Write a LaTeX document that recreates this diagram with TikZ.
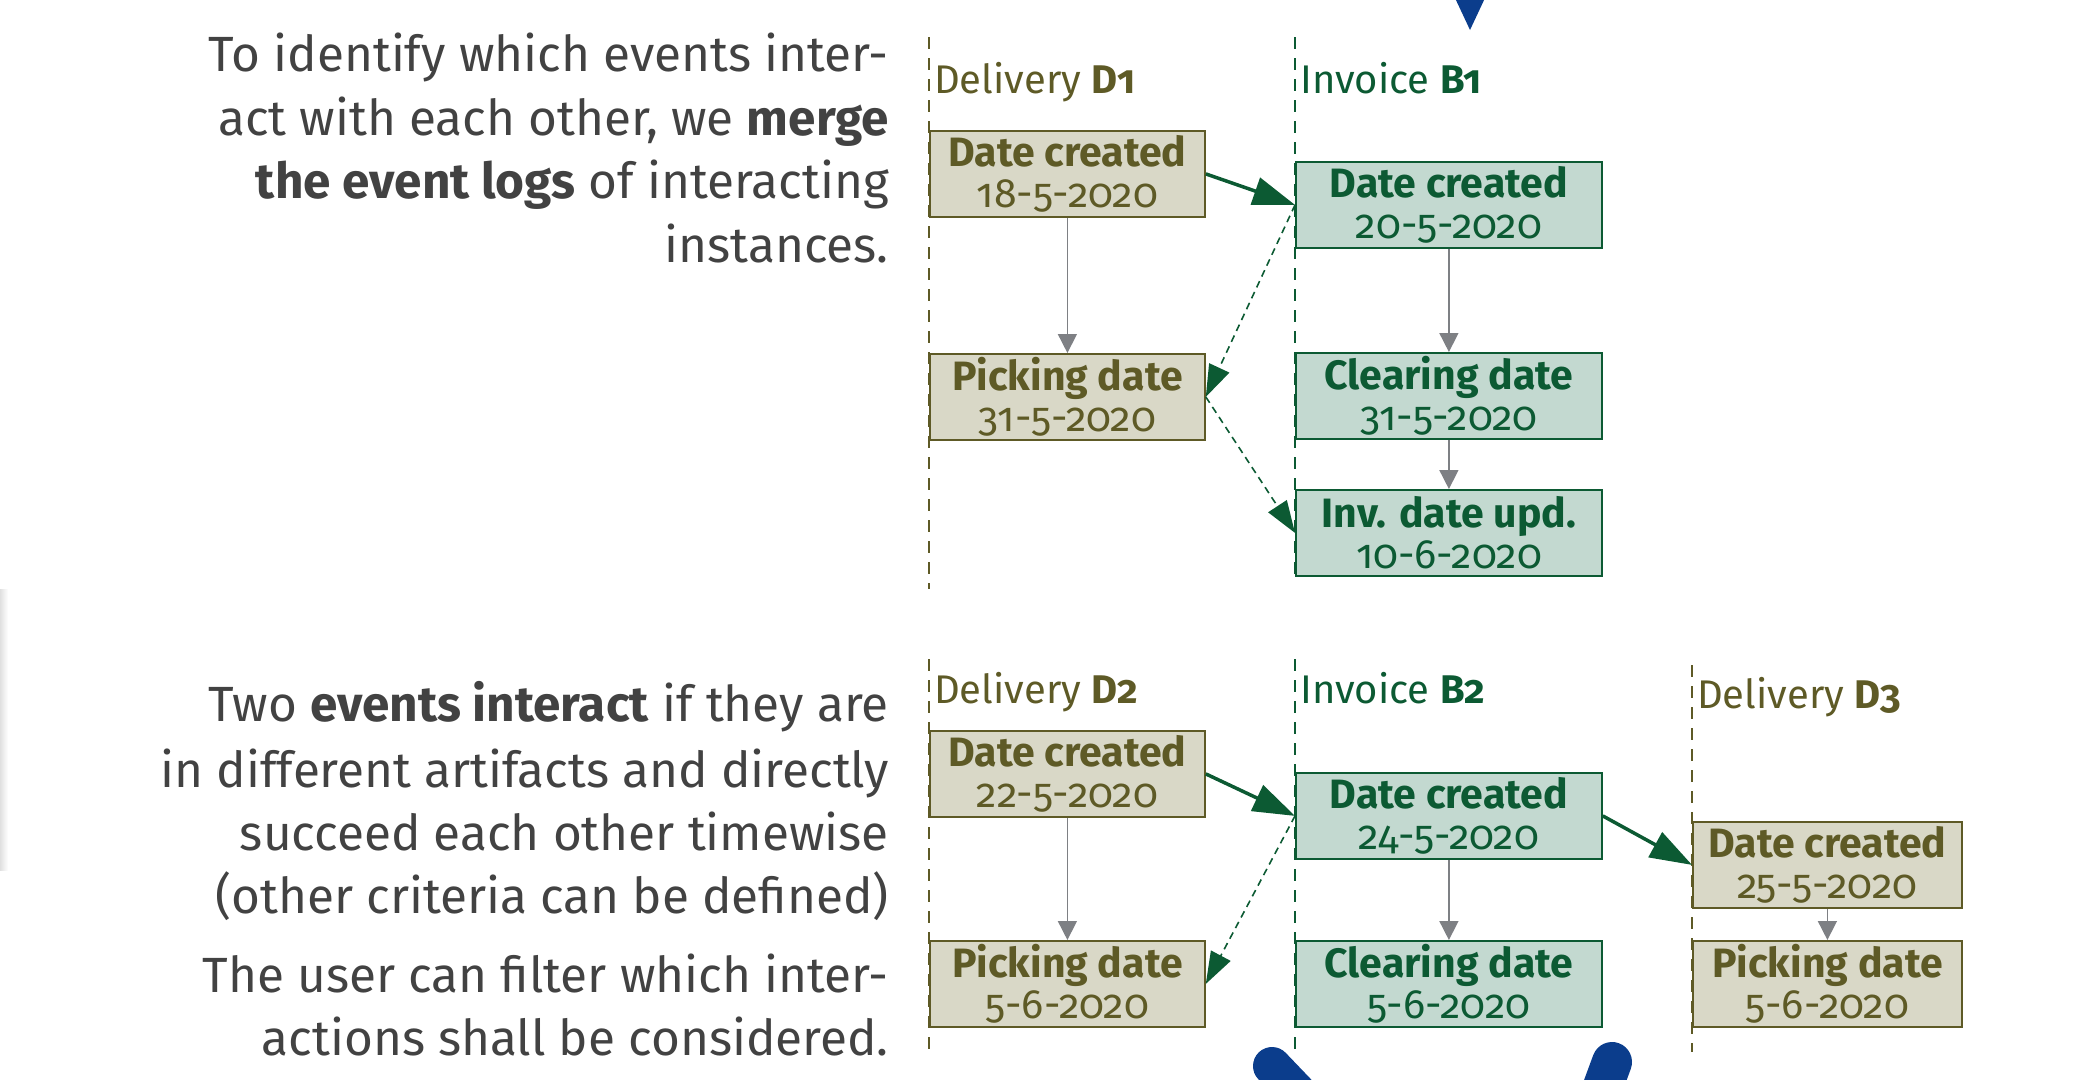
\documentclass[tikz,border=0pt]{standalone}
\usepackage{fontspec}
\setmainfont{Fira Sans}[Numbers=OldStyle]
\usetikzlibrary{arrows.meta}
\definecolor{olivec}{HTML}{5E5A26}
\definecolor{olivefill}{HTML}{D9D8C7}
\definecolor{greenc}{HTML}{0C5A33}
\definecolor{greenfill}{HTML}{C3D9D0}
\definecolor{grayarrow}{HTML}{7E8084}
\definecolor{bodyc}{HTML}{424242}
\definecolor{bluec}{HTML}{0B3D8C}
\tikzset{
  bodytext/.style={anchor=base east, inner sep=0pt, text=bodyc, font=\fontsize{49.5}{58}\selectfont},
  lanelabel/.style={anchor=base west, inner sep=0pt, font=\fontsize{40}{48}\selectfont},
  evbox/.style={anchor=north west, inner sep=0pt, line width=1.8pt, minimum height=86pt, align=center,
    font=\fontsize{41}{41.5}\selectfont},
  obox/.style={evbox, draw=olivec, fill=olivefill, text=olivec},
  gbox/.style={evbox, draw=greenc, fill=greenfill, text=greenc},
  oline/.style={draw=olivec, line width=1.6pt, dash pattern=on 12pt off 9pt},
  gline/.style={draw=greenc, line width=1.6pt, dash pattern=on 12pt off 9pt},
  flow/.style={draw=grayarrow, line width=1.6pt, -{Triangle[length=19pt,width=19pt]}},
  link/.style={draw=greenc, line width=3.5pt, -{Triangle[length=42pt,width=28pt]}},
  dlink/.style={draw=greenc, line width=1.6pt, dash pattern=on 7pt off 5pt, -{Triangle[length=32pt,width=22pt]}},
}
\begin{document}
\begin{tikzpicture}[x=1pt,y=-1pt]
\useasboundingbox (0,0) rectangle (2099,1079);
% faint shadow at left edge
\shade[left color=black!12, right color=white] (0,589) rectangle (8,870);
% blue fragments
\fill[bluec] (1455,-2) -- (1485,-2) -- (1470,30) -- cycle;
\coordinate (bl1) at (1272,1066);
\coordinate (bl2) at (1316,1112);
\coordinate (br1) at (1612,1062);
\coordinate (br2) at (1598,1100);
\draw[bluec, line width=38pt, line cap=round] (bl1) -- (bl2);
\draw[bluec, line width=40pt, line cap=round] (br1) -- (br2);

% left explanatory text
\node[bodytext] (t1) at (889,71) {To identify which events inter-};
\node[bodytext] (t2) at (889,135) {act with each other, we \textbf{merge}};
\node[bodytext] (t3) at (889,198) {\textbf{the event logs} of interacting};
\node[bodytext] (t4) at (889,262) {instances.};
\node[bodytext] (u1) at (889,721) {Two \textbf{events interact} if they are};
\node[bodytext] (u2) at (889,787) {in different artifacts and directly};
\node[bodytext] (u3) at (889,850) {succeed each other timewise};
\node[bodytext] (u4) at (889,913) {(other criteria can be defined)};
\node[bodytext] (u5) at (889,992) {The user can filter which inter-};
\node[bodytext] (u6) at (889,1055) {actions shall be considered.};

% lanes
\coordinate (d1t) at (929,37);  \coordinate (d1b) at (929,589);
\coordinate (b1t) at (1295,37); \coordinate (b1b) at (1295,576);
\coordinate (d2t) at (929,659); \coordinate (d2b) at (929,1052);
\coordinate (b2t) at (1295,659);\coordinate (b2b) at (1295,1052);
\coordinate (d3t) at (1692,665);\coordinate (d3b) at (1692,1052);
\draw[oline] (d1t) -- (d1b);
\draw[gline] (b1t) -- (b1b);
\draw[oline] (d2t) -- (d2b);
\draw[gline] (b2t) -- (b2b);
\draw[oline] (d3t) -- (d3b);

\node[lanelabel, text=olivec] (ld1) at (934,93) {Delivery \textbf{D1}};
\node[lanelabel, text=greenc] (lb1) at (1300,93) {Invoice \textbf{B1}};
\node[lanelabel, text=olivec] (ld2) at (934,703) {Delivery \textbf{D2}};
\node[lanelabel, text=greenc] (lb2) at (1300,703) {Invoice \textbf{B2}};
\node[lanelabel, text=olivec] (ld3) at (1697,708) {Delivery \textbf{D3}};

% top group
\node[obox, minimum width=275pt] (d1a) at (929,130) {\textbf{Date created}\\18-5-2020};
\node[obox, minimum width=275pt] (d1p) at (929,353) {\textbf{Picking date}\\31-5-2020};
\node[gbox, minimum width=306pt] (b1a) at (1295,161) {\textbf{Date created}\\20-5-2020};
\node[gbox, minimum width=306pt] (b1c) at (1295,352) {\textbf{Clearing date}\\31-5-2020};
\node[gbox, minimum width=306pt] (b1u) at (1295,489) {\textbf{Inv. date upd.}\\10-6-2020};

\draw[flow] (d1a) -- (d1p);
\draw[flow] (b1a) -- (b1c);
\draw[flow] (b1c) -- (b1u);
\draw[link] (d1a.east) -- (b1a.west);
\draw[dlink] (b1a.west) -- (d1p.east);
\draw[dlink] (d1p.east) -- (b1u.west);

% bottom group
\node[obox, minimum width=275pt] (d2a) at (929,730) {\textbf{Date created}\\22-5-2020};
\node[obox, minimum width=275pt] (d2p) at (929,940) {\textbf{Picking date}\\5-6-2020};
\node[gbox, minimum width=306pt] (b2a) at (1295,772) {\textbf{Date created}\\24-5-2020};
\node[gbox, minimum width=306pt] (b2c) at (1295,940) {\textbf{Clearing date}\\5-6-2020};
\node[obox, minimum width=269pt] (d3a) at (1692,821) {\textbf{Date created}\\25-5-2020};
\node[obox, minimum width=269pt] (d3p) at (1692,940) {\textbf{Picking date}\\5-6-2020};

\draw[flow] (d2a) -- (d2p);
\draw[flow] (b2a) -- (b2c);
\draw[flow] (d3a) -- (d3p);
\draw[link] (d2a.east) -- (b2a.west);
\draw[dlink] (b2a.west) -- (d2p.east);
\draw[link] (b2a.east) -- (d3a.west);
\end{tikzpicture}
\end{document}
